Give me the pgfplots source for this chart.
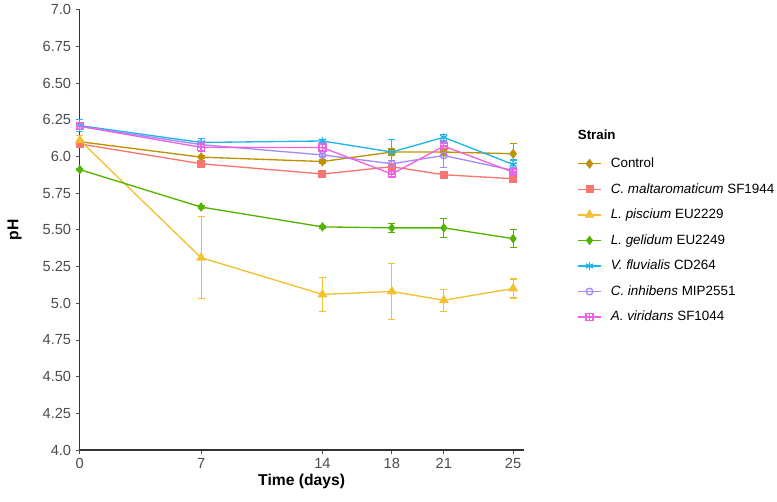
\documentclass[border=0pt]{standalone}
\usepackage{fontspec}
\setmainfont{Liberation Sans}
\usepackage{pgfplots}
\pgfplotsset{compat=1.18}
\usepackage{pgfplotstable}

\definecolor{cctrl}{HTML}{C09000}
\definecolor{cmalt}{HTML}{F8766D}
\definecolor{cpisc}{HTML}{F2C030}
\definecolor{cgeli}{HTML}{53B400}
\definecolor{cfluv}{HTML}{1FB5E9}
\definecolor{cinhi}{HTML}{A58AFF}
\definecolor{cviri}{HTML}{EE61E0}
\definecolor{tickgray}{HTML}{4D4D4D}

% square with a plus inside
\pgfdeclareplotmark{boxplus}{%
  \pgfpathrectangle{\pgfpoint{-\pgfplotmarksize}{-\pgfplotmarksize}}{\pgfpoint{2\pgfplotmarksize}{2\pgfplotmarksize}}%
  \pgfpathmoveto{\pgfpoint{-\pgfplotmarksize}{0pt}}\pgfpathlineto{\pgfpoint{\pgfplotmarksize}{0pt}}%
  \pgfpathmoveto{\pgfpoint{0pt}{-\pgfplotmarksize}}\pgfpathlineto{\pgfpoint{0pt}{\pgfplotmarksize}}%
  \pgfusepathqstroke}

% x  y  ey
\pgfplotstableread{
x y ey
0 6.10 0.01
7 5.995 0.01
14 5.965 0.01
18 6.03 0.02
21 6.03 0.02
25 6.018 0.068
}\control
\pgfplotstableread{
x y ey
0 6.085 0.012
7 5.95 0.02
14 5.88 0.02
18 5.93 0.02
21 5.875 0.02
25 5.848 0.015
}\malt
\pgfplotstableread{
x y ey
0 6.11 0.03
7 5.31 0.28
14 5.06 0.115
18 5.08 0.19
21 5.02 0.075
25 5.10 0.065
}\pisc
\pgfplotstableread{
x y ey
0 5.91 0.006
7 5.655 0.01
14 5.52 0.01
18 5.513 0.03
21 5.513 0.065
25 5.44 0.06
}\geli
\pgfplotstableread{
x y ey
0 6.21 0.04
7 6.095 0.025
14 6.105 0.01
18 6.03 0.085
21 6.13 0.02
25 5.945 0.03
}\fluv
\pgfplotstableread{
x y ey
0 6.205 0.02
7 6.08 0.02
14 6.01 0.01
18 5.95 0.02
21 6.006 0.08
25 5.905 0.02
}\inhi
\pgfplotstableread{
x y ey
0 6.205 0.02
7 6.062 0.03
14 6.06 0.02
18 5.88 0.02
21 6.07 0.03
25 5.893 0.02
}\viri

\begin{document}
\begin{tikzpicture}
\begin{axis}[
    at={(0,0)}, anchor=origin,
    scale only axis,
    width=333.6pt, height=331.1pt,
    xmin=0, xmax=25.6,
    ymin=4, ymax=7,
    axis lines=left,
    axis line style={-, draw=black!80, line width=0.8pt},
    xtick={0,7,14,18,21,25},
    ytick={4,4.25,4.5,4.75,5,5.25,5.5,5.75,6,6.25,6.5,6.75,7},
    yticklabels={4.0,4.25,4.50,4.75,5.0,5.25,5.50,5.75,6.0,6.25,6.50,6.75,7.0},
    tick align=outside,
    major tick length=3pt,
    tick style={draw=tickgray, line width=0.6pt},
    ticklabel style={font=\fontsize{11}{13}\selectfont, text=tickgray},
    /pgf/number format/assume math mode=true,
    xlabel={\textbf{Time (days)}},
    ylabel={\textbf{pH}},
    label style={font=\fontsize{11.8}{14}\selectfont},
    xlabel style={yshift=3pt},
    ylabel style={yshift=9pt},
    clip=false,
    legend style={at={(axis description cs:1.121,0.670)}, anchor=north west,
        draw=none, fill=none, font=\fontsize{10.1}{12}\selectfont,
        row sep=6.4pt, column sep=5pt, inner sep=0pt},
    legend cell align=left,
    every axis plot/.append style={line width=1pt,
        error bars/error bar style={line width=0.9pt},
        error bars/error mark options={rotate=90, mark size=2.6pt, line width=0.9pt}},
]
\addplot[cctrl, mark=diamond*, mark size=3pt, error bars/.cd, y dir=both, y explicit]
  table[x=x, y=y, y error=ey] {\control};
\addlegendentry{Control}
\addplot[cmalt, mark=square*, mark size=2.5pt, error bars/.cd, y dir=both, y explicit]
  table[x=x, y=y, y error=ey] {\malt};
\addlegendentry{\textit{C. maltaromaticum} SF1944}
\addplot[cpisc, mark=triangle*, mark size=3.3pt, error bars/.cd, y dir=both, y explicit]
  table[x=x, y=y, y error=ey] {\pisc};
\addlegendentry{\textit{L. piscium} EU2229}
\addplot[cgeli, mark=diamond*, mark size=2.8pt, error bars/.cd, y dir=both, y explicit]
  table[x=x, y=y, y error=ey] {\geli};
\addlegendentry{\textit{L. gelidum} EU2249}
\addplot[cfluv, mark=asterisk, mark size=3pt, error bars/.cd, y dir=both, y explicit]
  table[x=x, y=y, y error=ey] {\fluv};
\addlegendentry{\textit{V. fluvialis} CD264}
\addplot[cinhi, mark=o, mark size=2.5pt, error bars/.cd, y dir=both, y explicit]
  table[x=x, y=y, y error=ey] {\inhi};
\addlegendentry{\textit{C. inhibens} MIP2551}
\addplot[cviri, mark=boxplus, mark size=2.6pt, error bars/.cd, y dir=both, y explicit]
  table[x=x, y=y, y error=ey] {\viri};
\addlegendentry{\textit{A. viridans} SF1044}

\node[anchor=west, inner sep=0pt, font=\bfseries\fontsize{10}{12}\selectfont] at (axis description cs:1.122,0.716) {Strain};
\end{axis}
\useasboundingbox (-60pt,-39pt) rectangle (522.75pt,335.25pt);
\end{tikzpicture}
\end{document}
